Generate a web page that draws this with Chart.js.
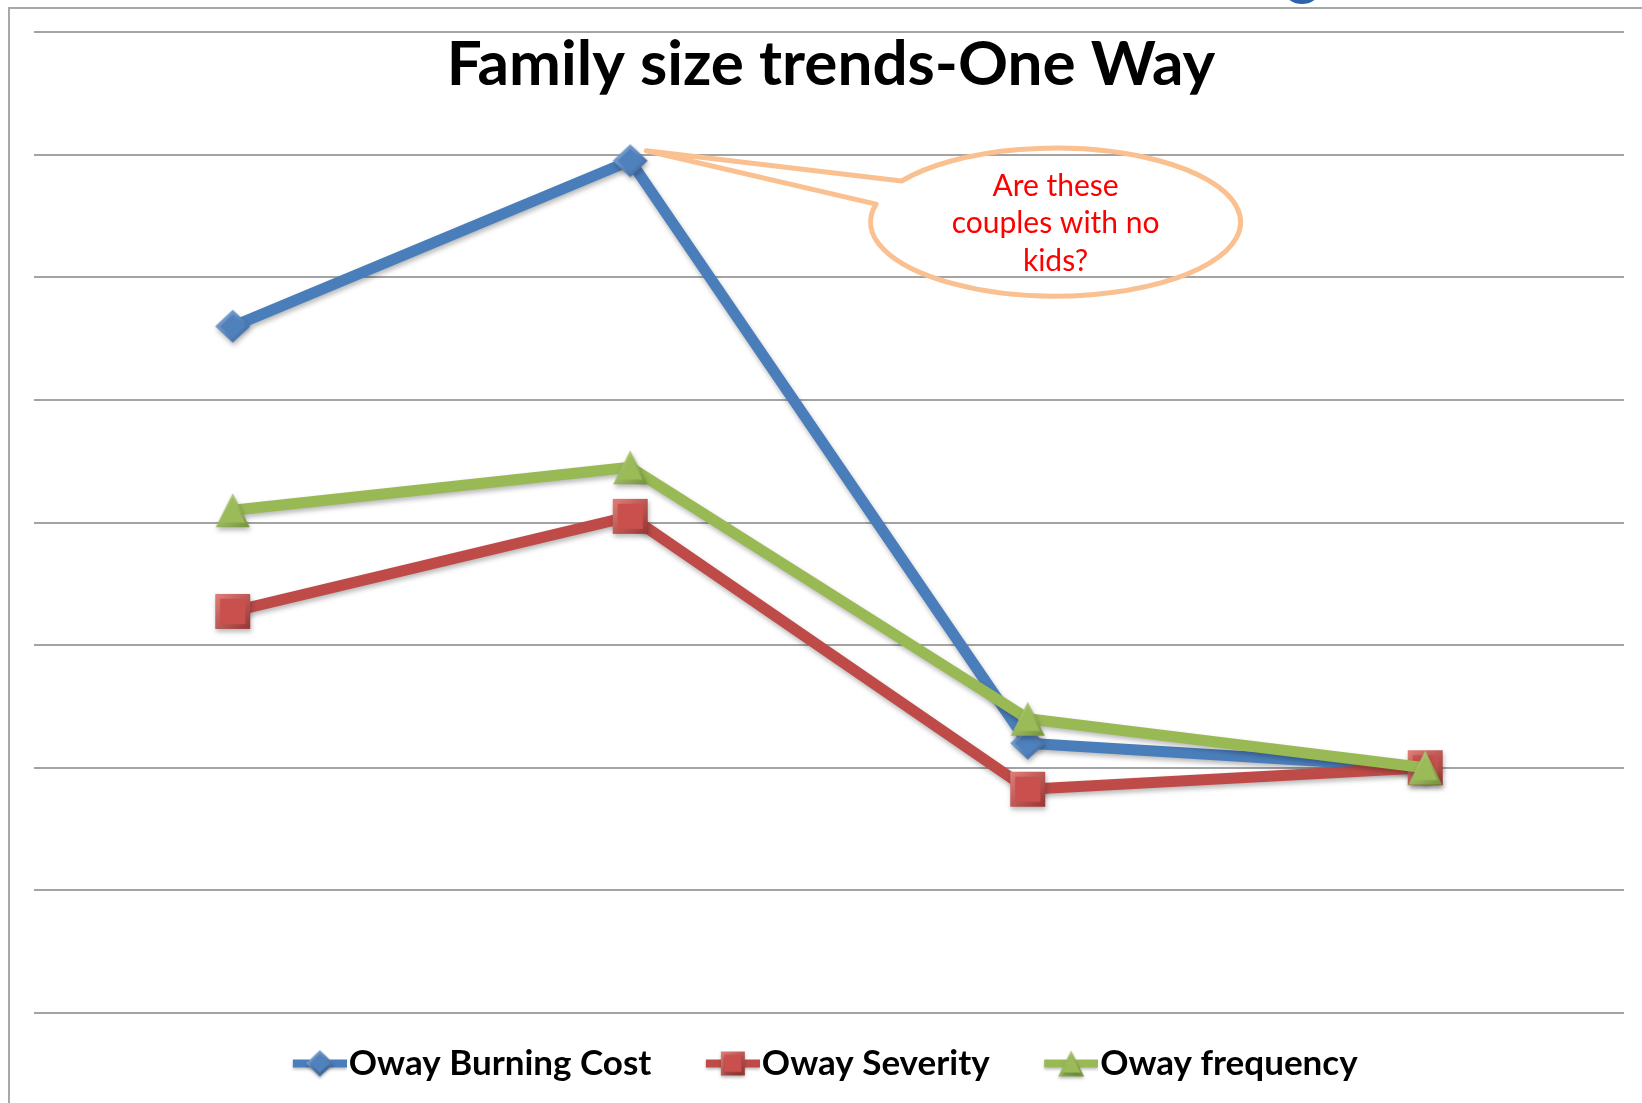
<!DOCTYPE html>
<html lang="en">
<head>
  <meta charset="UTF-8" />
  <title>Family size trends-One Way</title>
  <script src="https://cdn.jsdelivr.net/npm/chart.js"></script>
  <style>
    * {
      margin: 0;
      padding: 0;
      box-sizing: border-box;
    }

    body {
      background: #fff;
      overflow: hidden;
    }

    .chart-box {
      position: relative;
      width: 1642px;
      height: 1103px;
    }
  </style>
</head>
<body>

  <div class="chart-box">
    <canvas id="trendChart"></canvas>
  </div>

  <script>
    // One-way relativities by family size (last group is the base level)
    const categories = ['1', '2', '3', '4+'];
    const burningCost = [1.72, 1.99, 1.04, 1.00];
    const severity = [1.255, 1.41, 0.965, 1.00];
    const frequency = [1.42, 1.49, 1.08, 1.00];
    const yTicks = [0.6, 0.8, 1.0, 1.2, 1.4, 1.6, 1.8, 2.0, 2.2];
    const calloutLines = ['Are these', 'couples with no', 'kids?'];

    const palette = {
      blue: { line: '#4a7ebb', base: '#4f81bd', light: '#86acdd', dark: '#33619a' },
      red: { line: '#be4b48', base: '#c9504c', light: '#e27f7b', dark: '#983532' },
      green: { line: '#98b954', base: '#9bbb59', light: '#c0da88', dark: '#74923a' }
    };

    function tracePath(g, shape, cx, cy, r) {
      g.beginPath();
      if (shape === 'diamond') {
        g.moveTo(cx, cy - r * 0.94);
        g.lineTo(cx + r, cy);
        g.lineTo(cx, cy + r * 0.94);
        g.lineTo(cx - r, cy);
      } else if (shape === 'square') {
        g.rect(cx - r, cy - r, 2 * r, 2 * r);
      } else {
        g.moveTo(cx, cy - r);
        g.lineTo(cx + r, cy + r);
        g.lineTo(cx - r, cy + r);
      }
      g.closePath();
    }

    // bevelled marker: lighter rim at the top-left, darker at the bottom-right
    function paintMarker(g, shape, cx, cy, r, col) {
      const rim = g.createLinearGradient(cx - r, cy - r, cx + r, cy + r);
      rim.addColorStop(0, col.light);
      rim.addColorStop(1, col.dark);
      tracePath(g, shape, cx, cy, r);
      g.fillStyle = rim;
      g.fill();
      tracePath(g, shape, cx, cy, r * 0.72);
      g.fillStyle = col.base;
      g.fill();
    }

    function markerImage(shape, r, col) {
      const c = document.createElement('canvas');
      c.width = c.height = Math.ceil(2 * r + 4);
      const g = c.getContext('2d');
      paintMarker(g, shape, c.width / 2, c.height / 2, r, col);
      return c;
    }

    // legend symbol: a short line with the marker on it, sitting at the right end
    function legendImage(shape, r, col, width) {
      const lineLen = 54;
      const c = document.createElement('canvas');
      c.width = width;
      c.height = 36;
      const g = c.getContext('2d');
      const cy = c.height / 2;
      const cx = width - lineLen / 2;
      g.save();
      g.shadowColor = 'rgba(0, 0, 0, 0.25)';
      g.shadowBlur = 3;
      g.shadowOffsetY = 2;
      g.strokeStyle = col.line;
      g.lineWidth = 8;
      g.beginPath();
      g.moveTo(width - lineLen, cy);
      g.lineTo(width, cy);
      g.stroke();
      paintMarker(g, shape, cx, cy, r, col);
      g.restore();
      return c;
    }

    const legendFontSize = 35;
    const legendPad = 33;
    const legendBoxWidth = 60;
    const legendImgWidth = legendBoxWidth + legendFontSize - 4;

    const markers = [
      markerImage('diamond', 17.5, palette.blue),
      markerImage('square', 17.5, palette.red),
      markerImage('triangle', 17, palette.green)
    ];
    const legendSymbols = [
      legendImage('diamond', 14, palette.blue, legendImgWidth),
      legendImage('square', 12, palette.red, legendImgWidth),
      legendImage('triangle', 13, palette.green, legendImgWidth)
    ];

    // page frame and the edge of the logo from the slide above
    const pageFrame = {
      id: 'pageFrame',
      beforeDraw(chart) {
        const { ctx, width, height } = chart;
        ctx.save();
        ctx.fillStyle = '#fff';
        ctx.fillRect(0, 0, width, height);
        ctx.strokeStyle = '#a8a8a8';
        ctx.lineWidth = 2;
        ctx.beginPath();
        ctx.moveTo(9, height);
        ctx.lineTo(9, 8);
        ctx.lineTo(width, 8);
        ctx.stroke();
        ctx.fillStyle = '#2f64ad';
        ctx.beginPath();
        ctx.ellipse(1302, -7, 16, 11, 0, 0, Math.PI * 2);
        ctx.fill();
        ctx.restore();
      }
    };

    // nudge the legend row a little to the left of the canvas centre
    const legendShift = {
      id: 'legendShift',
      afterLayout(chart) {
        chart.legend.left -= 30;
      }
    };

    // title sits inside the plot area, between the first two gridlines
    const overlayTitle = {
      id: 'overlayTitle',
      afterDraw(chart) {
        const { ctx, chartArea } = chart;
        ctx.save();
        ctx.fillStyle = '#000';
        ctx.font = 'bold 62px Lato';
        ctx.textAlign = 'center';
        ctx.textBaseline = 'alphabetic';
        ctx.fillText('Family size trends-One Way', (chartArea.left + chartArea.right) / 2 + 2, 85);
        ctx.restore();
      }
    };

    const lineShadow = {
      id: 'lineShadow',
      beforeDatasetDraw(chart) {
        const ctx = chart.ctx;
        ctx.save();
        ctx.shadowColor = 'rgba(0, 0, 0, 0.28)';
        ctx.shadowBlur = 5;
        ctx.shadowOffsetX = 1;
        ctx.shadowOffsetY = 3;
      },
      afterDatasetDraw(chart) {
        chart.ctx.restore();
      }
    };

    // speech bubble pointing at the peak of the burning cost line
    const callout = {
      id: 'callout',
      afterDatasetsDraw(chart) {
        const { ctx, scales: { x, y } } = chart;
        const peak = chart.getDatasetMeta(0).data[1];
        const tipX = peak.x + 16;
        const tipY = peak.y - 10;
        const cx = x.getPixelForValue(2.07);
        const cy = y.getPixelForValue(1.89);
        const rx = 185;
        const ry = 74;
        const a1 = 213.7 * Math.PI / 180;
        const a2 = 194 * Math.PI / 180;

        ctx.save();
        ctx.strokeStyle = '#fac090';
        ctx.lineWidth = 5;
        ctx.lineJoin = 'round';
        ctx.beginPath();
        ctx.ellipse(cx, cy, rx, ry, 0, a1, a2);
        ctx.lineTo(tipX, tipY);
        ctx.closePath();
        ctx.stroke();

        ctx.fillStyle = '#ff0000';
        ctx.font = '30px Lato';
        ctx.textAlign = 'center';
        ctx.textBaseline = 'alphabetic';
        const lh = 37.5;
        calloutLines.forEach((t, i) => {
          ctx.fillText(t, cx, cy + 11 + (i - 1) * lh);
        });
        ctx.restore();
      }
    };

    new Chart(document.getElementById('trendChart'), {
      type: 'line',
      data: {
        labels: categories,
        datasets: [
          {
            label: 'Oway Burning Cost',
            data: burningCost,
            borderColor: palette.blue.line,
            backgroundColor: palette.blue.base,
            pointStyle: markers[0],
            order: 3
          },
          {
            label: 'Oway Severity',
            data: severity,
            borderColor: palette.red.line,
            backgroundColor: palette.red.base,
            pointStyle: markers[1],
            order: 2
          },
          {
            label: 'Oway frequency',
            data: frequency,
            borderColor: palette.green.line,
            backgroundColor: palette.green.base,
            pointStyle: markers[2],
            order: 1
          }
        ]
      },
      options: {
        responsive: true,
        maintainAspectRatio: false,
        animation: false,
        layout: {
          padding: { left: 34, right: 17, top: 32, bottom: 12 }
        },
        elements: {
          line: {
            borderWidth: 11,
            tension: 0,
            borderJoinStyle: 'round'
          },
          point: {
            radius: 17,
            hoverRadius: 17
          }
        },
        scales: {
          x: {
            type: 'category',
            display: false,
            offset: true
          },
          y: {
            min: 0.6,
            max: 2.2,
            afterBuildTicks: (scale) => {
              scale.ticks = yTicks.map(v => ({ value: v }));
            },
            ticks: { display: false },
            border: { display: false },
            grid: {
              color: '#a3a3a3',
              lineWidth: 2,
              drawTicks: false
            }
          }
        },
        plugins: {
          title: { display: false },
          tooltip: { enabled: false },
          legend: {
            position: 'bottom',
            labels: {
              usePointStyle: true,
              pointStyleWidth: legendBoxWidth,
              padding: legendPad,
              color: '#000',
              font: { family: 'Lato', size: legendFontSize, weight: 'bold' },
              sort: (a, b) => a.datasetIndex - b.datasetIndex,
              generateLabels(chart) {
                const items = Chart.defaults.plugins.legend.labels.generateLabels(chart);
                items.forEach(item => {
                  item.pointStyle = legendSymbols[item.datasetIndex];
                });
                return items;
              }
            }
          }
        }
      },
      plugins: [pageFrame, legendShift, lineShadow, callout, overlayTitle]
    });
  </script>

</body>
</html>
